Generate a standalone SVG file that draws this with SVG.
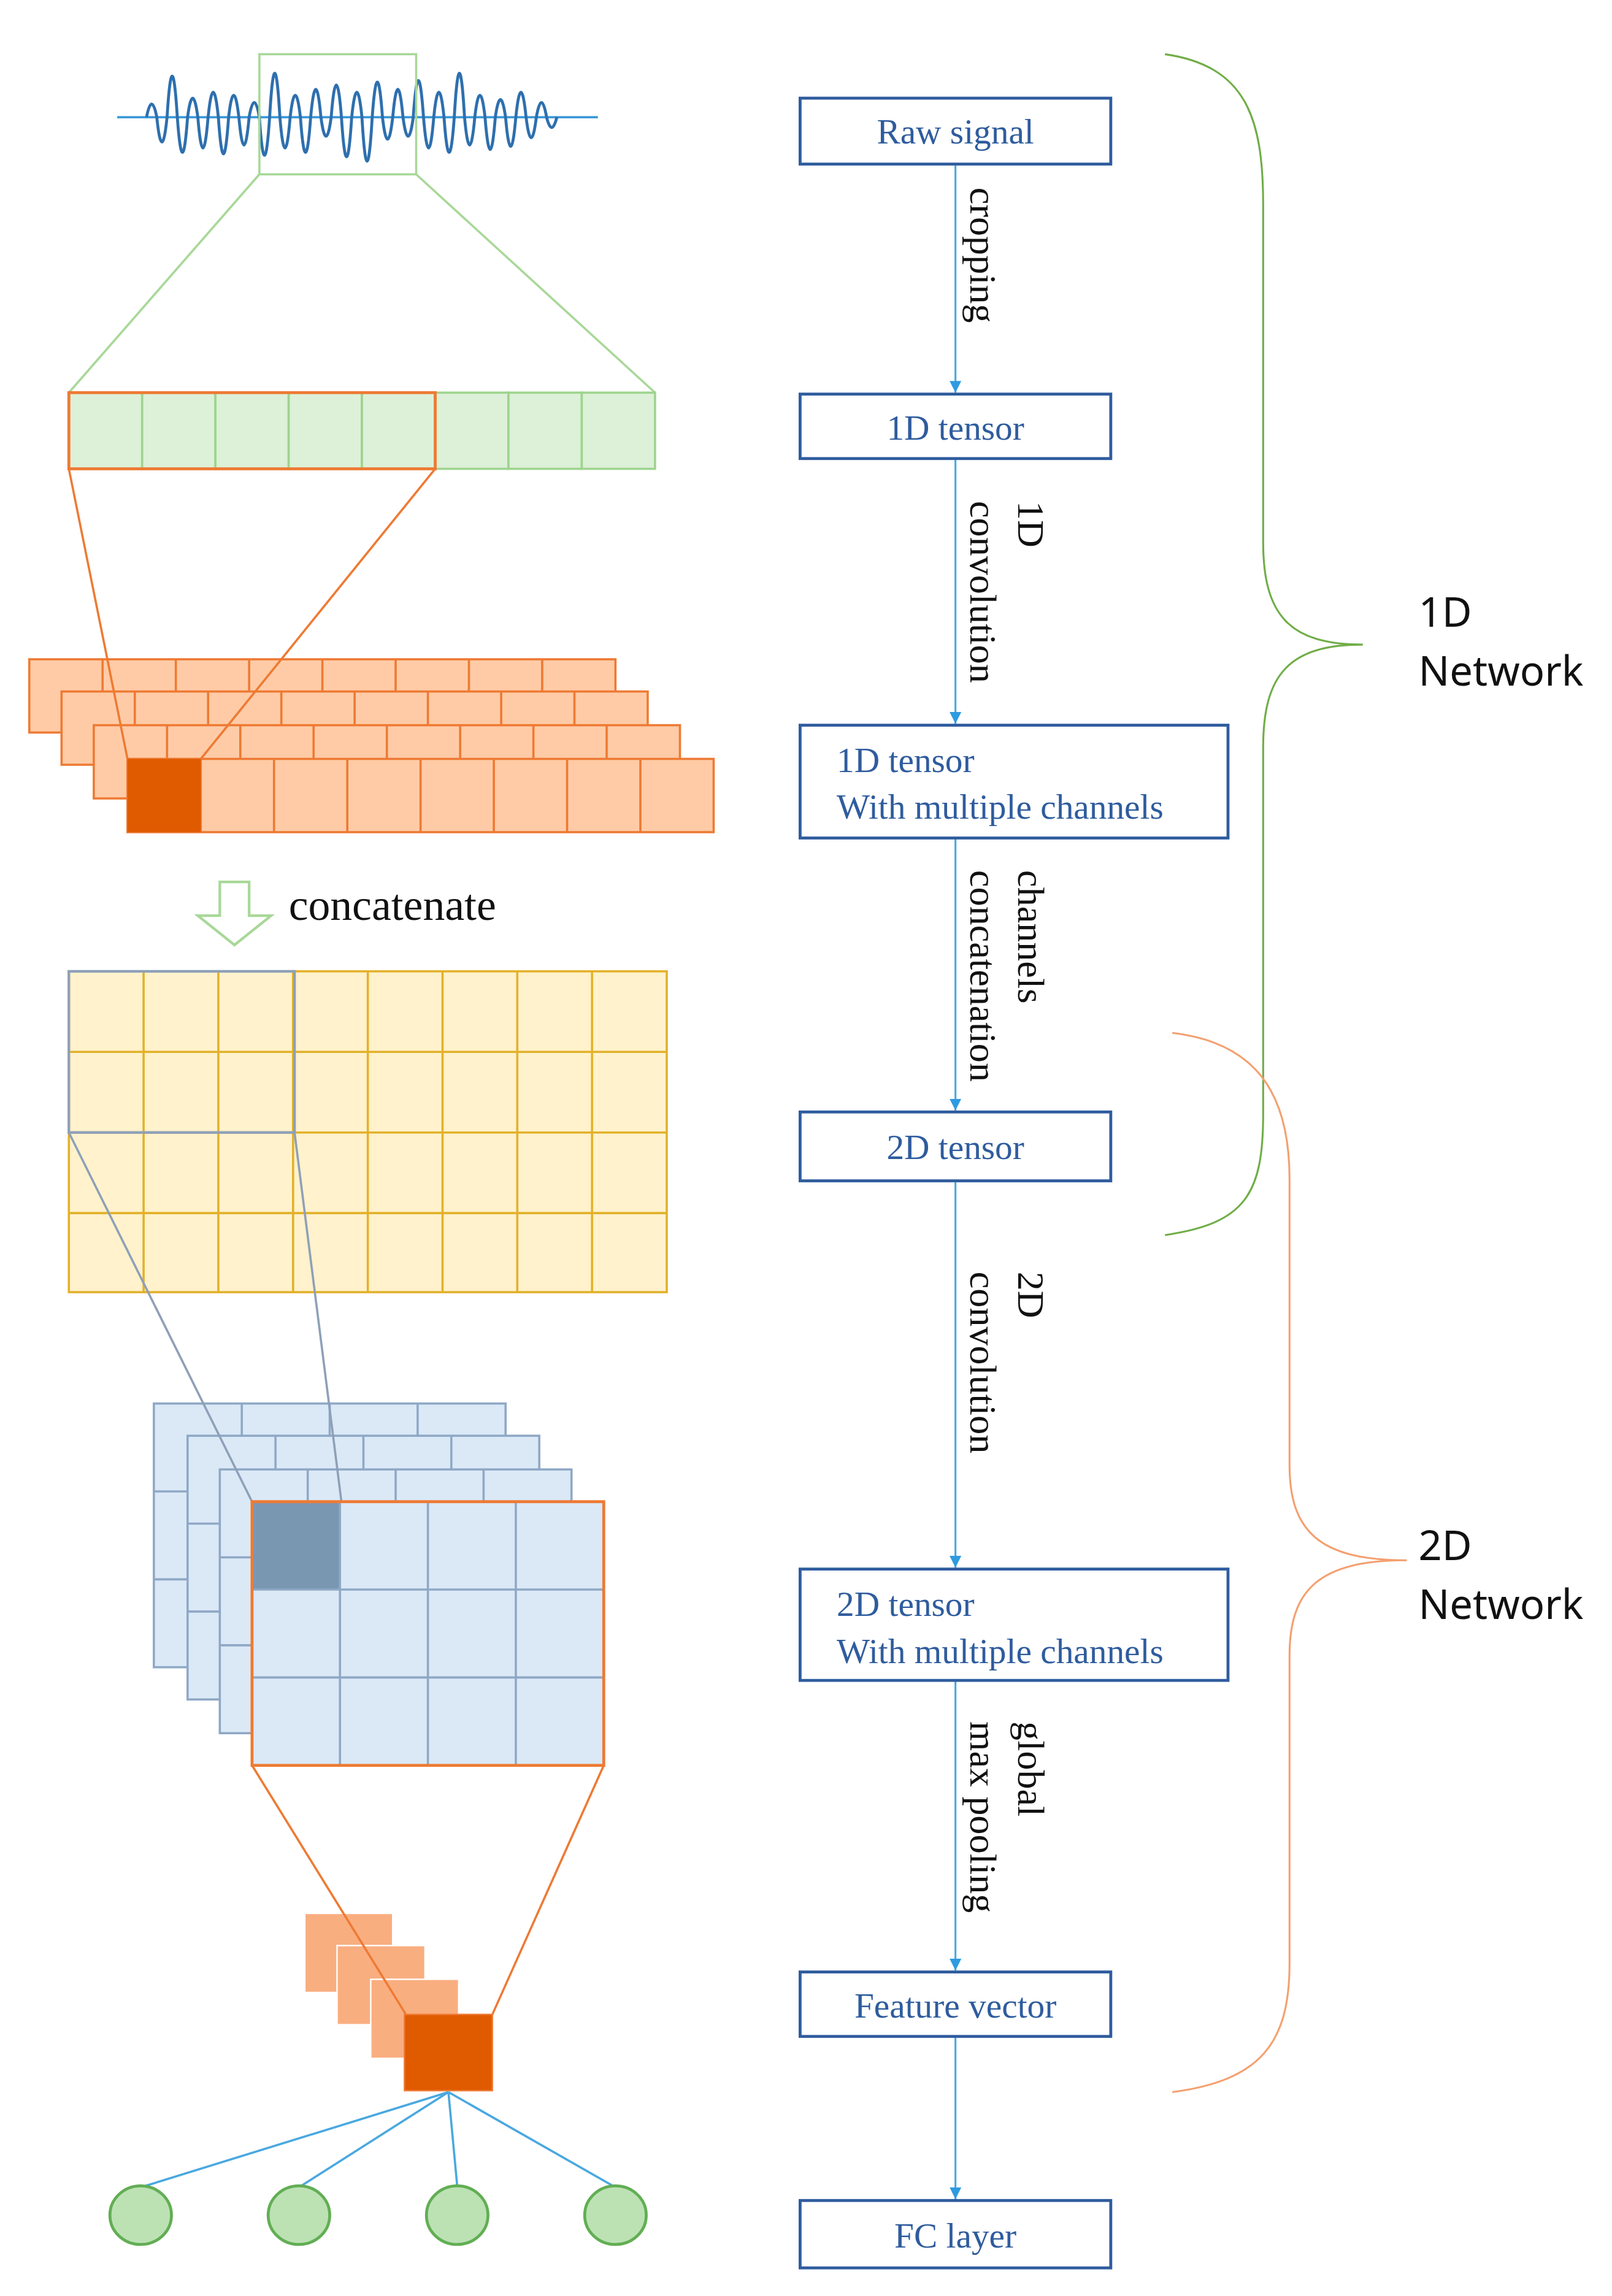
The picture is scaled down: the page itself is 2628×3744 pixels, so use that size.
<svg xmlns="http://www.w3.org/2000/svg" width="2628" height="3744" viewBox="0 0 2628 3744">
<style>
.box{fill:#fff;stroke:#2F5C9E;stroke-width:2}
.bt{font-family:"Liberation Serif",serif;font-size:24px;fill:#2F5C9E}
.lt{font-family:"Liberation Serif",serif;font-size:26px;fill:#111}
.nt{font-family:"Noto Sans","Liberation Sans",sans-serif;font-size:28px;fill:#111}
.con{stroke:#4AA8E0;stroke-width:1.3;fill:none}
.gc{fill:#DDF0D8;stroke:#9ED48E;stroke-width:1.5}
.oc{fill:#FFCBA6;stroke:#EE7A34;stroke-width:1.5}
.yc{fill:#FFF2CC;stroke:#E3B12A;stroke-width:1.5}
.bc{fill:#DBE9F6;stroke:#8FA8C6;stroke-width:1.5}
.po{fill:#F9AE80;stroke:#fff;stroke-width:1}
</style>
<defs>
<marker id="ah" viewBox="0 0 10 10" refX="10" refY="5" markerWidth="8" markerHeight="8" markerUnits="userSpaceOnUse" orient="auto"><path d="M0,0 L10,5 L0,10 z" fill="#2E9BE0"/></marker>
</defs>
<rect width="2628" height="3744" fill="#fff"/>
<g transform="scale(2.389)">
<g id="signal">
<line x1="80" y1="80" x2="408" y2="80" stroke="#3E9AD8" stroke-width="1.5"/>
<path fill="none" stroke="#2E6FAE" stroke-width="2" d="M100,80 Q103.5,62 107,80 Q110.5,114 114,80 Q117.5,24 121,80 Q124.5,128 128,80 Q131.5,54 135,80 Q138.5,122 142,80 Q145.5,46 149,80 Q152.5,130 156,80 Q159.5,50 163,80 Q166.5,118 170,80 Q173.5,60 177,80 Q180.5,132 184,80 Q187.5,20 191,80 Q194.5,122 198,80 Q201.5,50 205,80 Q208.5,128 212,80 Q215.5,42 219,80 Q222.5,106 226,80 Q229.5,36 233,80 Q236.5,134 240,80 Q243.5,46 247,80 Q250.5,140 254,80 Q257.5,32 261,80 Q264.5,110 268,80 Q271.5,42 275,80 Q278.5,106 282,80 Q285.5,30 289,80 Q292.5,122 296,80 Q299.5,46 303,80 Q306.5,128 310,80 Q313.5,20 317,80 Q320.5,118 324,80 Q327.5,50 331,80 Q334.5,124 338,80 Q341.5,56 345,80 Q348.5,120 352,80 Q355.5,46 359,80 Q362.5,108 366,80 Q369.5,60 373,80 Q376.5,94 380,80"/>
<rect x="177" y="37" width="107" height="82" fill="none" stroke="#A8D898" stroke-width="1.5"/>
<line x1="177" y1="119" x2="47" y2="268" stroke="#A8D898" stroke-width="1.5"/>
<line x1="284" y1="119" x2="447" y2="268" stroke="#A8D898" stroke-width="1.5"/>
</g>
<g id="tensor1d">
<rect class="gc" x="47" y="268" width="50" height="52"/><rect class="gc" x="97" y="268" width="50" height="52"/><rect class="gc" x="147" y="268" width="50" height="52"/><rect class="gc" x="197" y="268" width="50" height="52"/><rect class="gc" x="247" y="268" width="50" height="52"/><rect class="gc" x="297" y="268" width="50" height="52"/><rect class="gc" x="347" y="268" width="50" height="52"/><rect class="gc" x="397" y="268" width="50" height="52"/>
<rect x="47" y="268" width="250" height="52" fill="none" stroke="#EE7A34" stroke-width="2"/>
</g>
<g id="channels1d">
<g transform="translate(20,450)"><rect class="oc" x="0" y="0" width="400" height="50"/><path d="M50,0V50M100,0V50M150,0V50M200,0V50M250,0V50M300,0V50M350,0V50" stroke="#EE7A34" stroke-width="1.5"/></g>
<g transform="translate(42,472)"><rect class="oc" x="0" y="0" width="400" height="50"/><path d="M50,0V50M100,0V50M150,0V50M200,0V50M250,0V50M300,0V50M350,0V50" stroke="#EE7A34" stroke-width="1.5"/></g>
<g transform="translate(64,495)"><rect class="oc" x="0" y="0" width="400" height="50"/><path d="M50,0V50M100,0V50M150,0V50M200,0V50M250,0V50M300,0V50M350,0V50" stroke="#EE7A34" stroke-width="1.5"/></g>
<g transform="translate(87,518)"><rect class="oc" x="0" y="0" width="400" height="50"/><path d="M50,0V50M100,0V50M150,0V50M200,0V50M250,0V50M300,0V50M350,0V50" stroke="#EE7A34" stroke-width="1.5"/><rect x="0" y="0" width="50" height="50" fill="#E05A00"/></g>
<line x1="47" y1="320" x2="87" y2="518" stroke="#EE7A34" stroke-width="1.5"/>
<line x1="297" y1="320" x2="137" y2="518" stroke="#EE7A34" stroke-width="1.5"/>
</g>
<g id="concat">
<path d="M150,602 H170 V625 H185 L160,645 L135,625 H150 Z" fill="#fff" stroke="#A8D898" stroke-width="1.8"/>
<text x="197" y="628" font-family="Liberation Serif,serif" font-size="30" fill="#111">concatenate</text>
</g>
<g id="tensor2d">
<rect class="yc" x="47" y="663" width="408" height="219"/>
<path d="M98,663V882M149,663V882M200,663V882M251,663V882M302,663V882M353,663V882M404,663V882M47,718H455M47,773H455M47,828H455" stroke="#E3B12A" stroke-width="1.5"/>
<rect x="47" y="663" width="154" height="110" fill="none" stroke="#8EA0B8" stroke-width="1.8"/>
</g>
<g id="channels2d">
<g transform="translate(105,958)"><rect class="bc" width="240" height="180"/><path d="M60,0V180M120,0V180M180,0V180M0,60H240M0,120H240" stroke="#8FA8C6" stroke-width="1.5"/></g>
<g transform="translate(128,980)"><rect class="bc" width="240" height="180"/><path d="M60,0V180M120,0V180M180,0V180M0,60H240M0,120H240" stroke="#8FA8C6" stroke-width="1.5"/></g>
<g transform="translate(150,1003)"><rect class="bc" width="240" height="180"/><path d="M60,0V180M120,0V180M180,0V180M0,60H240M0,120H240" stroke="#8FA8C6" stroke-width="1.5"/></g>
<line x1="47" y1="773" x2="172" y2="1025" stroke="#8EA0B8" stroke-width="1.5"/>
<line x1="201" y1="773" x2="233" y2="1025" stroke="#8EA0B8" stroke-width="1.5"/>
<g transform="translate(172,1025)"><rect class="bc" width="240" height="180"/><rect width="60" height="60" fill="#7A97B2"/><path d="M60,0V180M120,0V180M180,0V180M0,60H240M0,120H240" stroke="#8FA8C6" stroke-width="1.5"/><rect width="240" height="180" fill="none" stroke="#EE7A34" stroke-width="2"/></g>
</g>
<g id="pooled">
<rect class="po" x="208" y="1306" width="60" height="54"/>
<rect class="po" x="230" y="1328" width="60" height="54"/>
<rect class="po" x="253" y="1351" width="60" height="54"/>
<line x1="172" y1="1205" x2="277" y2="1375" stroke="#EE7A34" stroke-width="1.5"/>
<line x1="412" y1="1205" x2="336" y2="1375" stroke="#EE7A34" stroke-width="1.5"/>
<rect x="276" y="1375" width="60" height="52" fill="#E05A00" stroke="#EE7A34" stroke-width="1"/>
</g>
<g id="fc">
<path d="M306,1428 L96,1493 M306,1428 L204,1493 M306,1428 L312,1492 M306,1428 L420,1493" stroke="#4AA8E0" stroke-width="1.5"/>
<ellipse cx="96" cy="1512" rx="21" ry="20" fill="#BCE2B4" stroke="#62AE54" stroke-width="2"/>
<ellipse cx="204" cy="1512" rx="21" ry="20" fill="#BCE2B4" stroke="#62AE54" stroke-width="2"/>
<ellipse cx="312" cy="1512" rx="21" ry="20" fill="#BCE2B4" stroke="#62AE54" stroke-width="2"/>
<ellipse cx="420" cy="1512" rx="21" ry="20" fill="#BCE2B4" stroke="#62AE54" stroke-width="2"/>
</g>
<g id="connectors">
<line class="con" x1="652" y1="112" x2="652" y2="268" marker-end="url(#ah)"/>
<line class="con" x1="652" y1="313" x2="652" y2="494" marker-end="url(#ah)"/>
<line class="con" x1="652" y1="572" x2="652" y2="758" marker-end="url(#ah)"/>
<line class="con" x1="652" y1="806" x2="652" y2="1070" marker-end="url(#ah)"/>
<line class="con" x1="652" y1="1147" x2="652" y2="1345" marker-end="url(#ah)"/>
<line class="con" x1="652" y1="1390" x2="652" y2="1501" marker-end="url(#ah)"/>
<text class="lt" transform="translate(662,128) rotate(90)">cropping</text>
<text class="lt" transform="translate(695,342) rotate(90)">1D</text>
<text class="lt" transform="translate(662,342) rotate(90)">convolution</text>
<text class="lt" transform="translate(695,594) rotate(90)">channels</text>
<text class="lt" transform="translate(662,594) rotate(90)">concatenation</text>
<text class="lt" transform="translate(695,868) rotate(90)">2D</text>
<text class="lt" transform="translate(662,868) rotate(90)">convolution</text>
<text class="lt" transform="translate(695,1175) rotate(90)">global</text>
<text class="lt" transform="translate(662,1175) rotate(90)">max pooling</text>
</g>
<g id="n-raw"><rect class="box" x="546" y="67" width="212" height="45"/><text class="bt" x="652" y="98" text-anchor="middle">Raw signal</text></g>
<g id="n-1d"><rect class="box" x="546" y="269" width="212" height="44"/><text class="bt" x="652" y="300" text-anchor="middle">1D tensor</text></g>
<g id="n-1dm"><rect class="box" x="546" y="495" width="292" height="77"/><text class="bt" x="571" y="527">1D tensor</text><text class="bt" x="571" y="559">With multiple channels</text></g>
<g id="n-2d"><rect class="box" x="546" y="759" width="212" height="47"/><text class="bt" x="652" y="791" text-anchor="middle">2D tensor</text></g>
<g id="n-2dm"><rect class="box" x="546" y="1071" width="292" height="76"/><text class="bt" x="571" y="1103">2D tensor</text><text class="bt" x="571" y="1135">With multiple channels</text></g>
<g id="n-fv"><rect class="box" x="546" y="1346" width="212" height="44"/><text class="bt" x="652" y="1377" text-anchor="middle">Feature vector</text></g>
<g id="n-fc"><rect class="box" x="546" y="1502" width="212" height="46"/><text class="bt" x="652" y="1534" text-anchor="middle">FC layer</text></g>
<g id="brace1d">
<path d="M795,37 C850,45 862,80 862,140 L862,370 C862,420 880,440 930,440 C880,440 862,460 862,510 L862,760 C862,815 850,835 795,843" fill="none" stroke="#70AD47" stroke-width="1.3"/>
<text class="nt" x="968" y="428">1D</text><text class="nt" x="968" y="468">Network</text>
</g>
<g id="brace2d">
<path d="M800,705 C860,712 880,750 880,805 L880,1000 C880,1045 900,1065 960,1065 C900,1065 880,1085 880,1130 L880,1340 C880,1395 860,1420 800,1428" fill="none" stroke="#F4A070" stroke-width="1.3"/>
<text class="nt" x="968" y="1065">2D</text><text class="nt" x="968" y="1105">Network</text>
</g>
</g>
</svg>
